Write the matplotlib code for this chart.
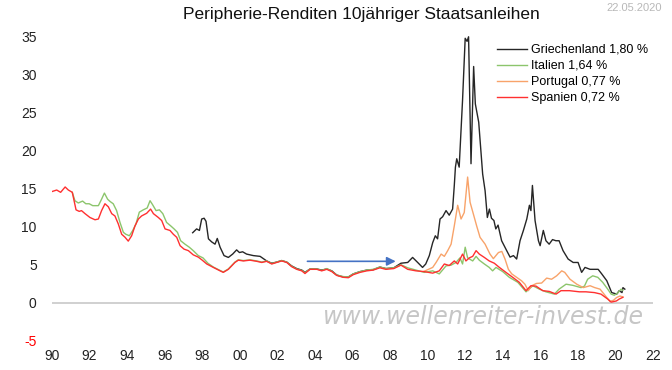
import matplotlib
matplotlib.use("Agg")
import matplotlib.pyplot as plt

plt.rcParams["font.family"] = ["Liberation Sans", "DejaVu Sans"]

# Spanien (red)
ES_X = [1990.0, 1990.25, 1990.46, 1990.7, 1990.87, 1991.08, 1991.28, 1991.45, 1991.57, 1991.76,
        1992.02, 1992.29, 1992.47, 1992.64, 1992.82, 1993.0, 1993.18, 1993.35, 1993.53, 1993.71,
        1993.89, 1994.06, 1994.24, 1994.42, 1994.6, 1994.77, 1995.04, 1995.25, 1995.4, 1995.66,
        1995.84, 1996.02, 1996.28, 1996.46, 1996.64, 1996.82, 1997.03, 1997.26, 1997.52, 1997.79,
        1998.0, 1998.24, 1998.59, 1998.95, 1999.12, 1999.39, 1999.74, 1999.92, 2000.19, 2000.54,
        2000.9, 2001.17, 2001.43, 2001.7, 2001.96, 2002.23, 2002.5, 2002.76, 2003.03, 2003.3,
        2003.47, 2003.74, 2004.1, 2004.36, 2004.63, 2004.9, 2005.16, 2005.51, 2005.78, 2006.04,
        2006.4, 2006.76, 2007.1, 2007.46, 2007.78, 2008.2, 2008.58, 2008.94, 2009.38, 2009.82,
        2010.27, 2010.62, 2010.89, 2011.15, 2011.42, 2011.6, 2011.86, 2012.04, 2012.22, 2012.4,
        2012.58, 2012.75, 2013.02, 2013.28, 2013.55, 2013.82, 2014.17, 2014.53, 2014.88, 2015.24,
        2015.5, 2015.77, 2016.13, 2016.48, 2016.84, 2017.1, 2017.55, 2018.08, 2018.43, 2018.88,
        2019.23, 2019.59, 2019.77, 2020.05, 2020.2, 2020.39]
ES_Y = [14.6, 14.8, 14.5, 15.2, 14.8, 14.5, 12.2, 12.0, 12.1, 11.7,
        11.2, 10.9, 11.0, 12.1, 13.0, 12.6, 11.7, 11.4, 10.35, 9.0,
        8.6, 8.1, 8.8, 10.1, 11.0, 11.4, 11.75, 12.3, 11.7, 11.2,
        10.8, 9.7, 9.5, 9.0, 8.6, 7.5, 7.05, 6.85, 6.3, 6.0,
        5.6, 5.1, 4.65, 4.2, 4.0, 4.4, 5.3, 5.6, 5.5, 5.6,
        5.45, 5.3, 5.45, 5.1, 5.3, 5.5, 5.3, 4.75, 4.4, 4.2,
        3.85, 4.4, 4.4, 4.2, 4.4, 4.1, 3.6, 3.35, 3.3, 3.7,
        4.0, 4.2, 4.3, 4.6, 4.4, 4.5, 4.95, 4.4, 4.2, 4.1,
        3.9, 4.2, 5.1, 4.9, 5.5, 5.1, 6.4, 5.5, 5.9, 6.1,
        6.85, 6.4, 5.96, 5.5, 5.2, 4.65, 4.0, 3.35, 2.7, 1.6,
        2.25, 2.2, 1.6, 1.5, 1.15, 1.6, 1.6, 1.45, 1.45, 1.35,
        1.15, 0.5, 0.1, 0.25, 0.5, 0.72]

# Italien (green)
IT_X = [1991.08, 1991.22, 1991.4, 1991.63, 1991.8, 1991.98, 1992.17, 1992.47, 1992.64, 1992.79,
        1992.96, 1993.09, 1993.26, 1993.44, 1993.62, 1993.8, 1993.93, 1994.12, 1994.3, 1994.47,
        1994.65, 1994.86, 1995.07, 1995.22, 1995.35, 1995.54, 1995.72, 1995.9, 1996.1, 1996.32,
        1996.5, 1996.68, 1996.85, 1997.08, 1997.31, 1997.52, 1997.79, 1998.04, 1998.3, 1998.59,
        1998.95, 1999.12, 1999.39, 1999.74, 1999.92, 2000.19, 2000.54, 2000.9, 2001.17, 2001.43,
        2001.7, 2001.96, 2002.23, 2002.5, 2002.76, 2003.03, 2003.3, 2003.47, 2003.74, 2004.1,
        2004.36, 2004.63, 2004.9, 2005.16, 2005.51, 2005.78, 2006.04, 2006.4, 2006.76, 2007.1,
        2007.46, 2007.78, 2008.2, 2008.58, 2008.94, 2009.38, 2009.82, 2010.27, 2010.62, 2010.98,
        2011.25, 2011.51, 2011.72, 2011.86, 2012.0, 2012.13, 2012.4, 2012.58, 2012.75, 2013.02,
        2013.28, 2013.46, 2013.64, 2014.0, 2014.35, 2014.8, 2015.24, 2015.6, 2015.95, 2016.3,
        2016.75, 2017.0, 2017.37, 2017.73, 2018.17, 2018.35, 2018.52, 2018.79, 2019.06, 2019.32,
        2019.59, 2019.77, 2019.94, 2020.12, 2020.3, 2020.39]
IT_Y = [14.5, 13.4, 13.1, 13.35, 13.0, 13.0, 12.75, 12.75, 13.6, 14.4,
        13.6, 13.3, 13.0, 12.1, 10.55, 9.25, 9.0, 8.8, 9.5, 10.35,
        11.9, 12.2, 12.45, 13.4, 12.9, 12.1, 12.2, 11.7, 10.55, 10.1,
        9.7, 9.25, 8.15, 7.7, 7.3, 6.85, 6.2, 5.9, 5.2, 4.7,
        4.25, 4.05, 4.45, 5.35, 5.65, 5.55, 5.65, 5.5, 5.35, 5.5,
        5.15, 5.35, 5.55, 5.35, 4.8, 4.45, 4.25, 3.95, 4.45, 4.45,
        4.25, 4.5, 4.15, 3.65, 3.45, 3.4, 3.8, 4.1, 4.3, 4.4,
        4.7, 4.5, 4.6, 5.0, 4.6, 4.3, 4.0, 4.2, 3.8, 4.85,
        4.95, 5.3, 5.9, 5.1, 7.3, 5.9, 5.5, 6.1, 5.6, 5.1,
        4.65, 4.2, 4.65, 4.1, 3.35, 2.7, 1.45, 2.25, 1.8, 1.45,
        1.15, 1.8, 2.45, 2.3, 2.0, 2.2, 3.1, 3.55, 3.35, 2.7,
        1.8, 1.15, 1.0, 1.3, 1.8, 1.64]

# Portugal (orange)
PT_X = [2009.82, 2010.27, 2010.45, 2010.72, 2010.89, 2011.07, 2011.25, 2011.42, 2011.6, 2011.78,
        2011.95, 2012.13, 2012.26, 2012.43, 2012.61, 2012.79, 2013.06, 2013.32, 2013.5, 2013.77,
        2013.95, 2014.12, 2014.3, 2014.48, 2014.74, 2015.0, 2015.18, 2015.36, 2015.54, 2015.8,
        2016.07, 2016.34, 2016.6, 2016.87, 2017.14, 2017.3, 2017.58, 2017.94, 2018.29, 2018.65,
        2018.9, 2019.18, 2019.54, 2019.71, 2019.9, 2020.06, 2020.24, 2020.41]
PT_Y = [4.15, 4.65, 5.3, 6.4, 6.1, 6.85, 7.7, 10.1, 12.8, 11.0,
        11.85, 16.5, 13.2, 11.7, 10.1, 8.6, 7.7, 6.4, 5.8, 6.6,
        6.75, 5.75, 4.4, 3.8, 3.35, 2.9, 2.45, 1.6, 2.25, 2.55,
        2.6, 3.25, 3.1, 3.55, 4.2, 4.0, 3.1, 2.45, 2.0, 2.25,
        2.0, 1.8, 0.7, 0.2, 0.35, 0.7, 0.9, 0.77]

# Griechenland (black)
GR_X = [1997.49, 1997.7, 1997.85, 1997.97, 1998.1, 1998.2, 1998.33, 1998.5, 1998.68, 1998.8,
        1998.95, 1999.16, 1999.39, 1999.62, 1999.83, 1999.98, 2000.15, 2000.36, 2000.72, 2001.08,
        2001.43, 2001.7, 2001.96, 2002.23, 2002.5, 2002.76, 2003.03, 2003.3, 2003.47, 2003.74,
        2004.1, 2004.36, 2004.63, 2004.9, 2005.16, 2005.51, 2005.78, 2006.04, 2006.4, 2006.76,
        2007.1, 2007.46, 2007.78, 2008.2, 2008.58, 2008.94, 2009.2, 2009.47, 2009.73, 2009.9,
        2010.09, 2010.27, 2010.41, 2010.53, 2010.66, 2010.8, 2010.98, 2011.15, 2011.33, 2011.42,
        2011.48, 2011.55, 2011.68, 2011.86, 2012.0, 2012.1, 2012.18, 2012.31, 2012.45, 2012.54,
        2012.72, 2012.93, 2013.06, 2013.18, 2013.29, 2013.4, 2013.53, 2013.63, 2013.75, 2013.94,
        2014.21, 2014.39, 2014.57, 2014.74, 2014.92, 2015.1, 2015.28, 2015.42, 2015.5, 2015.58,
        2015.72, 2015.9, 2015.99, 2016.16, 2016.3, 2016.47, 2016.65, 2016.83, 2017.0, 2017.21,
        2017.48, 2017.75, 2018.01, 2018.2, 2018.38, 2018.65, 2018.9, 2019.08, 2019.27, 2019.54,
        2019.8, 2020.07, 2020.2, 2020.35, 2020.4, 2020.5]
GR_Y = [9.2, 9.7, 9.5, 11.0, 11.1, 10.7, 8.4, 8.0, 7.7, 8.45,
        7.3, 6.2, 5.96, 6.4, 6.95, 6.6, 6.7, 6.4, 6.2, 6.1,
        5.5, 5.2, 5.35, 5.55, 5.35, 4.85, 4.5, 4.3, 4.0, 4.45,
        4.45, 4.3, 4.45, 4.2, 3.65, 3.4, 3.4, 3.8, 4.1, 4.3,
        4.35, 4.7, 4.5, 4.6, 5.2, 5.3, 5.96, 5.3, 4.65, 5.1,
        6.2, 7.9, 8.8, 8.4, 11.0, 11.3, 12.1, 11.5, 12.3, 15.4,
        17.8, 18.9, 17.8, 26.6, 34.7, 34.3, 34.9, 18.25, 31.0, 26.1,
        23.7, 16.9, 14.7, 11.2, 12.3, 11.1, 10.8, 9.7, 10.2, 8.15,
        6.85, 6.0, 6.2, 5.75, 8.15, 9.5, 11.0, 12.8, 12.1, 15.4,
        10.8, 8.15, 7.5, 9.5, 8.15, 7.7, 8.3, 8.15, 8.15, 6.85,
        5.75, 5.3, 5.3, 4.0, 4.65, 4.4, 4.4, 4.4, 3.8, 2.9,
        1.35, 1.15, 1.6, 1.35, 2.0, 1.8]

LABELS = ["Griechenland 1,80 %", "Italien 1,64 %", "Portugal 0,77 %", "Spanien 0,72 %"]
COLORS = ["#262626", "#8cc56c", "#f8a36a", "#ff3030"]

X_TICKS = list(range(1990, 2023, 2))
X_TICKLABELS = [f"{t % 100:02d}" for t in X_TICKS]
Y_TICKS = list(range(-5, 36, 5))

fig = plt.figure(figsize=(6.72, 3.70), dpi=100)
ax = fig.add_axes([52 / 672, 1 - 341 / 370, 601 / 672, 305 / 370])

ax.axhline(0, color="#d0d0d0", lw=1.4, zorder=1)

series = [(GR_X, GR_Y), (IT_X, IT_Y), (PT_X, PT_Y), (ES_X, ES_Y)]
for (xs, ys), lab, col in zip(series, LABELS, COLORS):
    ax.plot(xs, ys, color=col, lw=1.0, label=lab, zorder=2)

# blue arrow
ax.annotate("", xy=(2008.3, 5.45), xytext=(2003.6, 5.45),
            arrowprops=dict(arrowstyle="-|>", color="#4472c4", lw=1.2,
                            mutation_scale=13, shrinkA=0, shrinkB=0))

ax.set_xlim(1990, 2022)
ax.set_ylim(-5, 35)
ax.set_xticks(X_TICKS)
ax.set_xticklabels(X_TICKLABELS)
ax.set_yticks(Y_TICKS)
ax.set_yticklabels([str(t) for t in Y_TICKS])
ax.tick_params(axis="both", length=0, labelsize=10, colors="#222222")
ax.tick_params(axis="y", pad=11)
ax.tick_params(axis="x", pad=6)
ax.get_yticklabels()[0].set_color("#ff0000")
for s in ax.spines.values():
    s.set_visible(False)

ax.legend(loc="upper left", bbox_to_anchor=(497 / 672, 1 - 44 / 370),
          bbox_transform=fig.transFigure, frameon=False, fontsize=9,
          handlelength=2.4, handletextpad=0.3, labelspacing=0.32,
          borderpad=0, borderaxespad=0)

fig.text(361 / 672, 1 - 15 / 370, "Peripherie-Renditen 10jähriger Staatsanleihen",
         ha="center", va="center", fontsize=12.5, color="#111111")
fig.text(662 / 672, 1 - 8 / 370, "22.05.2020", ha="right", va="center",
         fontsize=8, color="#b8b8b8")
fig.text(483 / 672, 1 - 317 / 370, "www.wellenreiter-invest.de", ha="center",
         va="center", fontsize=17, style="italic", color="#c6c6c6",
         family="DejaVu Sans")

fig.savefig("out.png", dpi=100)
